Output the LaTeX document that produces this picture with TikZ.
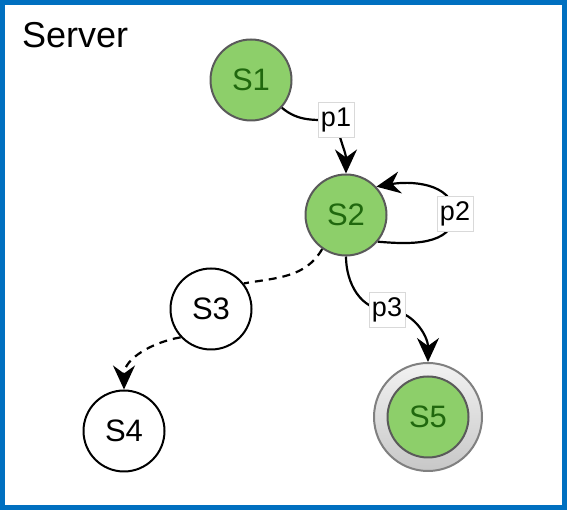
\documentclass[tikz,border=0pt]{standalone}
\usepackage{fontspec}
\setmainfont{Liberation Sans}
\usetikzlibrary{arrows.meta}
\pgfdeclarelayer{framelayer}
\pgfdeclarelayer{edgelayer}
\pgfsetlayers{framelayer,edgelayer,main}
\definecolor{frameblue}{RGB}{0,112,192}
\definecolor{stgreen}{RGB}{141,207,106}
\definecolor{sttext}{RGB}{32,104,14}
\definecolor{stborder}{RGB}{90,90,90}
\begin{document}
\begin{tikzpicture}[x=1pt,y=1pt,
  state/.style={circle, draw=black, line width=2pt, minimum size=81pt, inner sep=0pt,
    font=\fontsize{31}{31}\selectfont, fill=white},
  active/.style={state, fill=stgreen, draw=stborder, text=sttext},
  finalring/.style={circle, draw=black!50, line width=2pt, minimum size=108pt, inner sep=0pt,
    top color=black!5, bottom color=black!22},
  plabel/.style={fill=white, draw=black!15, line width=0.6pt, inner sep=3pt,
    font=\fontsize{27}{27}\selectfont, minimum height=35pt},
  edgearrow/.style={line width=2.2pt, -{Stealth[length=24pt,width=22pt,inset=8pt]}},
  dashedge/.style={line width=2.2pt, dash pattern=on 8pt off 6pt},
  titlestyle/.style={anchor=base west, inner sep=0pt, font=\fontsize{36}{36}\selectfont}
]
\useasboundingbox (0,0) rectangle (567,510);
\begin{pgfonlayer}{framelayer}
  \draw[frameblue, line width=5pt] (2.5,2.5) rectangle (564.5,507.5);
\end{pgfonlayer}

\node[titlestyle] (title) at (22,462) {Server};

\node[active] (S1) at (251,430) {S1};
\node[active] (S2) at (346,295) {S2};
\node[state] (S3) at (211,201) {S3};
\node[state] (S4) at (124,79) {S4};
\node[finalring] (S5) at (428,93) {};
\node[active] (S5in) at (428,93) {S5};

\node[plabel] (p1) at (336,390) {p1};
\node[plabel] (p2) at (455,296) {p2};
\node[plabel] (p3) at (387,200) {p3};

\begin{pgfonlayer}{edgelayer}
  \draw[edgearrow] (S1.-42) to[out=-40,in=180] (p1.center) to[out=-80,in=90] (S2.north);
  \draw[edgearrow] (S2.-40) to[out=-5,in=-95] (p2.center) to[out=95,in=10] (S2.43);
  \draw[edgearrow] (S2.south) to[out=-90,in=180] (p3.center) to[out=0,in=90] (S5.north);
  \draw[dashedge] (S2.235) to[out=-120,in=10] (S3.38);
  \draw[dashedge, -{Stealth[length=24pt,width=22pt,inset=8pt]}] (S3.223) to[out=190,in=90] (S4.north);
\end{pgfonlayer}
\end{tikzpicture}
\end{document}
